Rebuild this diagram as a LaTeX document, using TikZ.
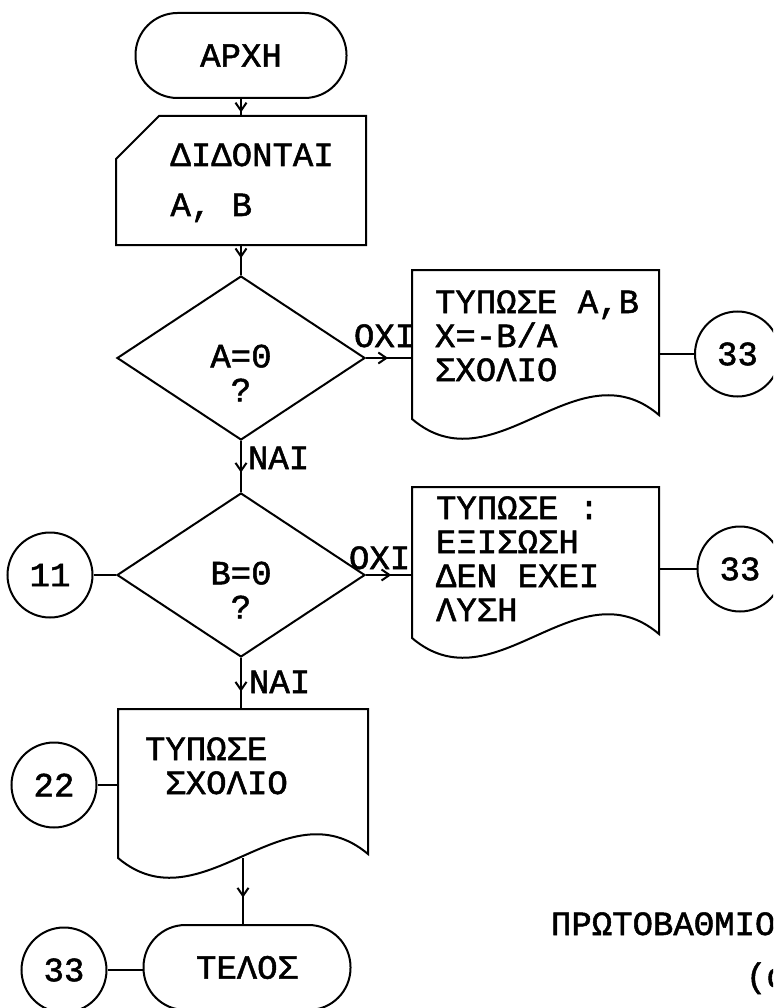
\documentclass[tikz,border=0pt]{standalone}
\usepackage{fontspec}
\setmainfont{Liberation Mono}[FakeBold=1.5]
\usetikzlibrary{shapes.geometric,arrows.meta,decorations.markings,calc}

\begin{document}
\begin{tikzpicture}[x=1pt,y=-1pt,line width=2pt,>={Straight Barb[length=8pt,width=11pt]},
  txt/.style={font=\fontsize{34}{34}\selectfont,inner sep=0pt},
  term/.style={draw,txt,rounded corners=42pt,minimum width=211pt,minimum height=85pt},
  holder/.style={draw=none,inner sep=0pt},
  decision/.style={draw,diamond,inner sep=0pt,minimum width=248pt,minimum height=164pt},
  conn/.style={draw,circle,txt,minimum size=85pt},
  flow/.style={postaction={decorate},decoration={markings,mark=at position #1 with {\arrow{>}}}}]
\useasboundingbox (0,0) rectangle (773,1008);
\clip (0,0) rectangle (773,1008);

\node[term] (start) at (241,55.5) {ΑΡΧΗ};
\node[holder,minimum width=248pt,minimum height=127pt] (inp) at (241,180.5) {};
\node[decision] (d1) at (241,358) {};
\node[decision] (d2) at (241,575) {};
\node[holder,minimum width=245pt,minimum height=147pt] (doc1) at (535.5,344.5) {};
\node[holder,minimum width=245pt,minimum height=149pt] (doc2) at (535.5,562.5) {};
\node[holder,minimum width=248pt,minimum height=147pt] (doc3) at (243,783.5) {};
\node[term,minimum width=207pt] (stop) at (247,967.5) {ΤΕΛΟΣ};
\node[conn] (c33a) at (737.5,354) {33};
\node[conn] (c33b) at (740,569) {33};
\node[conn] (c11) at (50,575) {11};
\node[conn] (c22) at (54,785) {22};
\node[conn] (c33c) at (64,970) {33};

\draw ([xshift=43pt]inp.north west) -- (inp.north east) -- (inp.south east)
  -- (inp.south west) -- ([yshift=-43pt]inp.north west) -- cycle;
\foreach \d in {doc1,doc2,doc3}
  \draw (\d.north west) -- (\d.north east) -- ([yshift=4pt]\d.south east)
    .. controls ($(\d.south west)!2/3!(\d.south east)+(0,-74)$) and ($(\d.south west)!1/3!(\d.south east)+(0,70)$) .. (\d.south west) -- cycle;

\node[txt,align=left,anchor=base west] (inptxt) at ([shift={(53.5pt,-100pt)}]inp.north west) {ΔΙΔΟΝΤΑΙ\\[16pt]A, B};
\node[txt,align=center] (d1txt) at ([yshift=-15pt]d1) {A=0\\?};
\node[txt,align=center] (d2txt) at ([yshift=-15pt]d2) {B=0\\?};
\node[txt,align=left,anchor=base west] (doc1txt) at ([shift={(22pt,-111pt)}]doc1.north west) {ΤΥΠΩΣΕ A,B\\X=-B/A\\ΣΧΟΛΙΟ};
\node[txt,align=left,anchor=base west] (doc2txt) at ([shift={(23pt,-134pt)}]doc2.north west) {ΤΥΠΩΣΕ :\\ΕΞΙΣΩΣΗ\\ΔΕΝ ΕΧΕΙ\\ΛΥΣΗ};
\node[txt,align=left,anchor=base west] (doc3txt) at ([shift={(26pt,-85pt)}]doc3.north west) {ΤΥΠΩΣΕ\\\ ΣΧΟΛΙΟ};
\node[txt,anchor=base west] (title) at (550,935) {ΠΡΩΤΟΒΑΘΜΙΟ};
\node[txt,anchor=base west] (sub) at (745,987) {(α};

\draw[flow=0.79] (start) -- (inp);
\draw[flow=0.44] (inp) -- (d1);
\draw[flow=0.62] (d1) -- (d2) node[pos=0,txt,anchor=base west,shift={(6pt,-28pt)}] {ΝΑΙ};
\draw[flow=0.48] (d1.east) -- (d1.east -| doc1.west) node[pos=0,txt,anchor=base west,shift={(-13pt,11pt)}] {ΟΧΙ};
\draw[flow=0.55] (d2.east) -- (d2.east -| doc2.west) node[pos=0,txt,anchor=base west,shift={(-18pt,6pt)}] {ΟΧΙ};
\draw[flow=0.66] (d2) -- (d2.south |- doc3.north) node[pos=0,txt,anchor=base west,shift={(7pt,-35pt)}] {ΝΑΙ};
\draw[flow=0.6] (doc3.south) -- (doc3.south |- stop.north);
\draw (doc1.east |- c33a.west) -- (c33a.west);
\draw (doc2.east |- c33b.west) -- (c33b.west);
\draw (c11.east) -- (d2.west);
\draw (c22.east) -- (c22.east -| doc3.west);
\draw (c33c.east) -- (c33c.east -| stop.west);
\end{tikzpicture}
\end{document}
